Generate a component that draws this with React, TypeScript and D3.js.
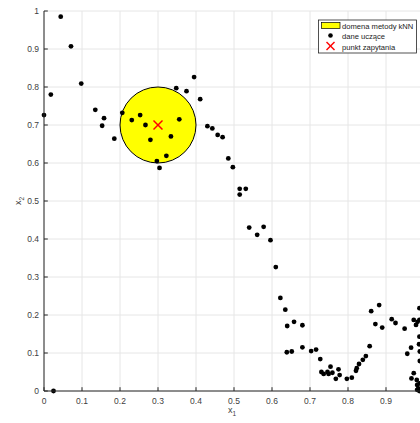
import React from 'react';
import * as d3 from 'd3';

// training samples (x1, x2)
const trainX1 = [
    0.044, 0.071, 0.098, 0.018, 0.000, 0.135, 0.158, 0.153, 0.185, 0.206,
    0.231, 0.253, 0.267, 0.280, 0.334, 0.356, 0.348, 0.375, 0.395, 0.411,
    0.430, 0.322, 0.297, 0.304, 0.443, 0.457, 0.470, 0.485, 0.497, 0.515,
    0.531, 0.515, 0.540, 0.578, 0.561, 0.596, 0.610, 0.622, 0.635, 0.640,
    0.658, 0.680, 0.639, 0.652, 0.680, 0.703, 0.716, 0.727, 0.730, 0.736,
    0.746, 0.749, 0.754, 0.759, 0.768, 0.775, 0.778, 0.797, 0.810, 0.821,
    0.823, 0.829, 0.839, 0.847, 0.857, 0.861, 0.882, 0.872, 0.890, 0.915,
    0.925, 0.949, 0.956, 0.966, 0.973, 0.979, 0.983, 0.988, 0.988, 0.987,
    0.989, 0.989, 0.973, 0.967, 0.981, 0.982, 0.985, 0.982, 0.988, 0.988,
    0.988, 0.025
];
const trainX2 = [
    0.985, 0.907, 0.809, 0.780, 0.726, 0.740, 0.718, 0.698, 0.664, 0.732,
    0.713, 0.726, 0.700, 0.661, 0.670, 0.715, 0.797, 0.789, 0.826, 0.768,
    0.697, 0.619, 0.605, 0.587, 0.691, 0.674, 0.668, 0.612, 0.589, 0.532,
    0.532, 0.517, 0.430, 0.432, 0.411, 0.397, 0.326, 0.245, 0.214, 0.171,
    0.182, 0.173, 0.102, 0.104, 0.115, 0.105, 0.109, 0.084, 0.050, 0.045,
    0.050, 0.045, 0.064, 0.048, 0.032, 0.057, 0.042, 0.032, 0.035, 0.053,
    0.060, 0.071, 0.082, 0.092, 0.118, 0.210, 0.226, 0.176, 0.167, 0.189,
    0.179, 0.164, 0.098, 0.114, 0.187, 0.174, 0.182, 0.187, 0.143, 0.123,
    0.104, 0.079, 0.047, 0.033, 0.029, 0.016, 0.007, 0.003, 0.020, 0.000,
    0.218, 0.000
];

// query point and kNN domain radius
const queryPoint = [0.3, 0.7];
const domainRadius = 0.1;

const tickValues = [0, 0.1, 0.2, 0.3, 0.4, 0.5, 0.6, 0.7, 0.8, 0.9, 1];
const tickLabels = ['0', '0.1', '0.2', '0.3', '0.4', '0.5', '0.6', '0.7', '0.8', '0.9', '1'];
const legendLabels = ['domena metody kNN', 'dane uczące', 'punkt zapytania'];

const W = 420;
const H = 423;
const margin = { left: 44, top: 11 };
const side = 380;
const font = '"Liberation Sans", Arial, sans-serif';
const axisColor = '#262626';

export default function App() {
    const x = d3.scaleLinear().domain([0, 1]).range([margin.left, margin.left + side]);
    const y = d3.scaleLinear().domain([0, 1]).range([margin.top + side, margin.top]);

    const x0 = x(0);
    const y0 = y(0);
    const rPx = x(domainRadius) - x(0);
    const qx = x(queryPoint[0]);
    const qy = y(queryPoint[1]);
    const xs = 4.5;

    const lg = { x: 318.5, y: 20, w: 98, h: 33 };

    return (
        <svg width={W} height={H} style={{ position: 'absolute', left: 0, top: 0, background: '#fff' }}
            fontFamily={font}>
            {/* grid */}
            {tickValues.map(t => (
                <g key={`g${t}`}>
                    <line x1={x(t)} x2={x(t)} y1={y(0)} y2={y(1)} stroke='#e6e6e6' strokeWidth={1} />
                    <line x1={x(0)} x2={x(1)} y1={y(t)} y2={y(t)} stroke='#e6e6e6' strokeWidth={1} />
                </g>
            ))}

            {/* kNN domain */}
            <circle cx={qx} cy={qy} r={rPx} fill='#ffff00' stroke='#000' strokeWidth={1} />

            {/* training data */}
            {trainX1.map((v, i) => (
                <circle key={i} cx={x(v)} cy={y(trainX2[i])} r={2.4} fill='#000' />
            ))}

            {/* query point */}
            <g stroke='#ff0000' strokeWidth={1.5}>
                <line x1={qx - xs} y1={qy - xs} x2={qx + xs} y2={qy + xs} />
                <line x1={qx - xs} y1={qy + xs} x2={qx + xs} y2={qy - xs} />
            </g>

            {/* axes */}
            <line x1={x0} x2={x0} y1={y(0)} y2={y(1)} stroke={axisColor} strokeWidth={1} />
            <line x1={x(0)} x2={x(1)} y1={y0} y2={y0} stroke={axisColor} strokeWidth={1} />
            {tickValues.map((t, i) => (
                <g key={`t${t}`}>
                    <line x1={x(t)} x2={x(t)} y1={y0} y2={y0 - 3.8} stroke={axisColor} />
                    <line x1={x0} x2={x0 + 3.8} y1={y(t)} y2={y(t)} stroke={axisColor} />
                    {/* the x label at 1 falls outside the visible frame */}
                    {x(t) < W - 8 && (
                        <text x={x(t)} y={y0 + 13} fontSize={8.5} fill='#404040' textAnchor='middle'>
                            {tickLabels[i]}
                        </text>
                    )}
                    <text x={x0 - 5} y={y(t) + 3} fontSize={8.5} fill='#404040' textAnchor='end'>
                        {tickLabels[i]}
                    </text>
                </g>
            ))}

            {/* axis labels */}
            <text x={x(0.5) - 2} y={413} fontSize={9} fill='#404040' textAnchor='middle'>
                x<tspan fontSize={6.5} dy={3}>1</tspan>
            </text>
            <text transform={`translate(21, ${y(0.5)}) rotate(-90)`} fontSize={9} fill='#404040'
                textAnchor='middle'>
                x<tspan fontSize={6.5} dy={3}>2</tspan>
            </text>

            {/* legend */}
            <g>
                <rect x={lg.x} y={lg.y} width={lg.w} height={lg.h} fill='#fff' stroke={axisColor} strokeWidth={0.8} />
                <rect x={321.5} y={22.5} width={18.5} height={6} fill='#ffff00' stroke='#000' strokeWidth={0.7} />
                <circle cx={330.5} cy={35.5} r={2.3} fill='#000' />
                <g stroke='#ff0000' strokeWidth={1.4}>
                    <line x1={326.5} y1={42} x2={334.5} y2={50} />
                    <line x1={326.5} y1={50} x2={334.5} y2={42} />
                </g>
                {legendLabels.map((l, i) => (
                    <text key={l} x={342} y={28.5 + i * 10.5} fontSize={7.6} fill='#1a1a1a'>{l}</text>
                ))}
            </g>
        </svg>
    );
}
